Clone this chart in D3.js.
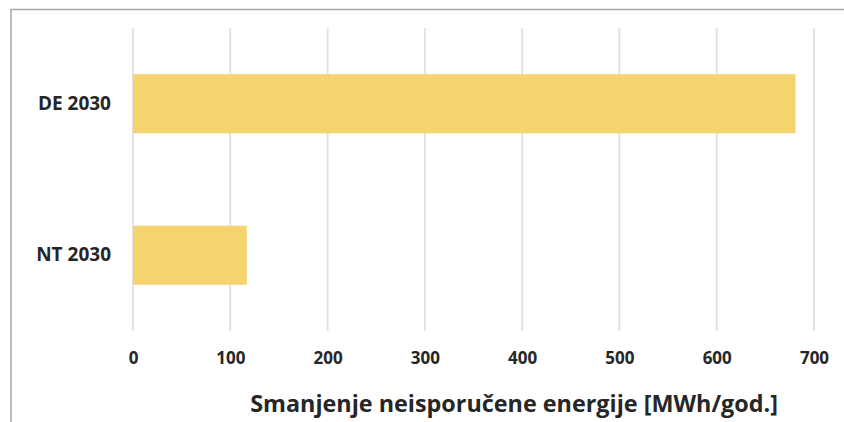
<!DOCTYPE html>
<html>
<head>
<meta charset="utf-8">
<script src="https://cdn.jsdelivr.net/npm/d3@7"></script>
<style>
  html, body { margin: 0; padding: 0; background: #fff; }
  svg { display: block; }
  text { font-family: "Open Sans", "Noto Sans", sans-serif; fill: #262626; }
</style>
</head>
<body>
<script>
// Reduction of undelivered energy per scenario
const categories = ["DE 2030", "NT 2030"];
const values = [681, 117];
const xTicks = [0, 100, 200, 300, 400, 500, 600, 700];
const axisTitle = "Smanjenje neisporučene energije [MWh/god.]";

const W = 844, H = 422;
const plot = { left: 133, right: 814, top: 28, bottom: 331 };

const svg = d3.select("body").append("svg")
  .attr("width", W).attr("height", H);

// frame: top and left edges only
svg.append("line").attr("x1", 11).attr("x2", W).attr("y1", 9.5).attr("y2", 9.5)
  .attr("stroke", "#a6a6a6").attr("stroke-width", 1.5);
svg.append("line").attr("x1", 11).attr("x2", 11).attr("y1", 9).attr("y2", H)
  .attr("stroke", "#a6a6a6").attr("stroke-width", 1.5);

const x = d3.scaleLinear().domain([0, 700]).range([plot.left, plot.right]);
const y = d3.scaleBand().domain(categories).range([plot.top, plot.bottom])
  .paddingInner(0.61).paddingOuter(0.305);

// vertical gridlines
svg.append("g").selectAll("line").data(xTicks).join("line")
  .attr("x1", d => x(d)).attr("x2", d => x(d))
  .attr("y1", plot.top).attr("y2", plot.bottom)
  .attr("stroke", "#e3e3e3").attr("stroke-width", 2);

// bars
svg.append("g").selectAll("rect").data(categories).join("rect")
  .attr("x", x(0))
  .attr("y", d => y(d))
  .attr("width", (d, i) => x(values[i]) - x(0))
  .attr("height", y.bandwidth())
  .attr("fill", "#f5d36e");

// x axis tick labels
const xAxis = d3.axisBottom(x).tickValues(xTicks).tickSize(0).tickPadding(0)
  .tickFormat(d3.format("d"));
const gx = svg.append("g").attr("transform", `translate(0,${plot.bottom + 21})`).call(xAxis);
gx.select(".domain").remove();
gx.selectAll("text")
  .style("font-family", "'Open Sans', sans-serif")
  .style("font-size", "17px").style("font-weight", "700").style("fill", "#262626");

// y axis category labels
const yAxis = d3.axisLeft(y).tickSize(0).tickPadding(22);
const gy = svg.append("g").attr("transform", `translate(${plot.left},0)`).call(yAxis);
gy.select(".domain").remove();
gy.selectAll("text")
  .style("font-family", "'Open Sans', sans-serif")
  .style("font-size", "19px").style("font-weight", "700").style("fill", "#262626");

// axis title
const title = svg.append("text")
  .attr("x", 514).attr("y", 412)
  .attr("text-anchor", "middle")
  .style("font-size", "20px").style("font-weight", "700")
  .text(axisTitle);
const tw = title.node().getComputedTextLength();
title.style("font-size", (20 * 528 / tw).toFixed(2) + "px");
</script>
</body>
</html>
